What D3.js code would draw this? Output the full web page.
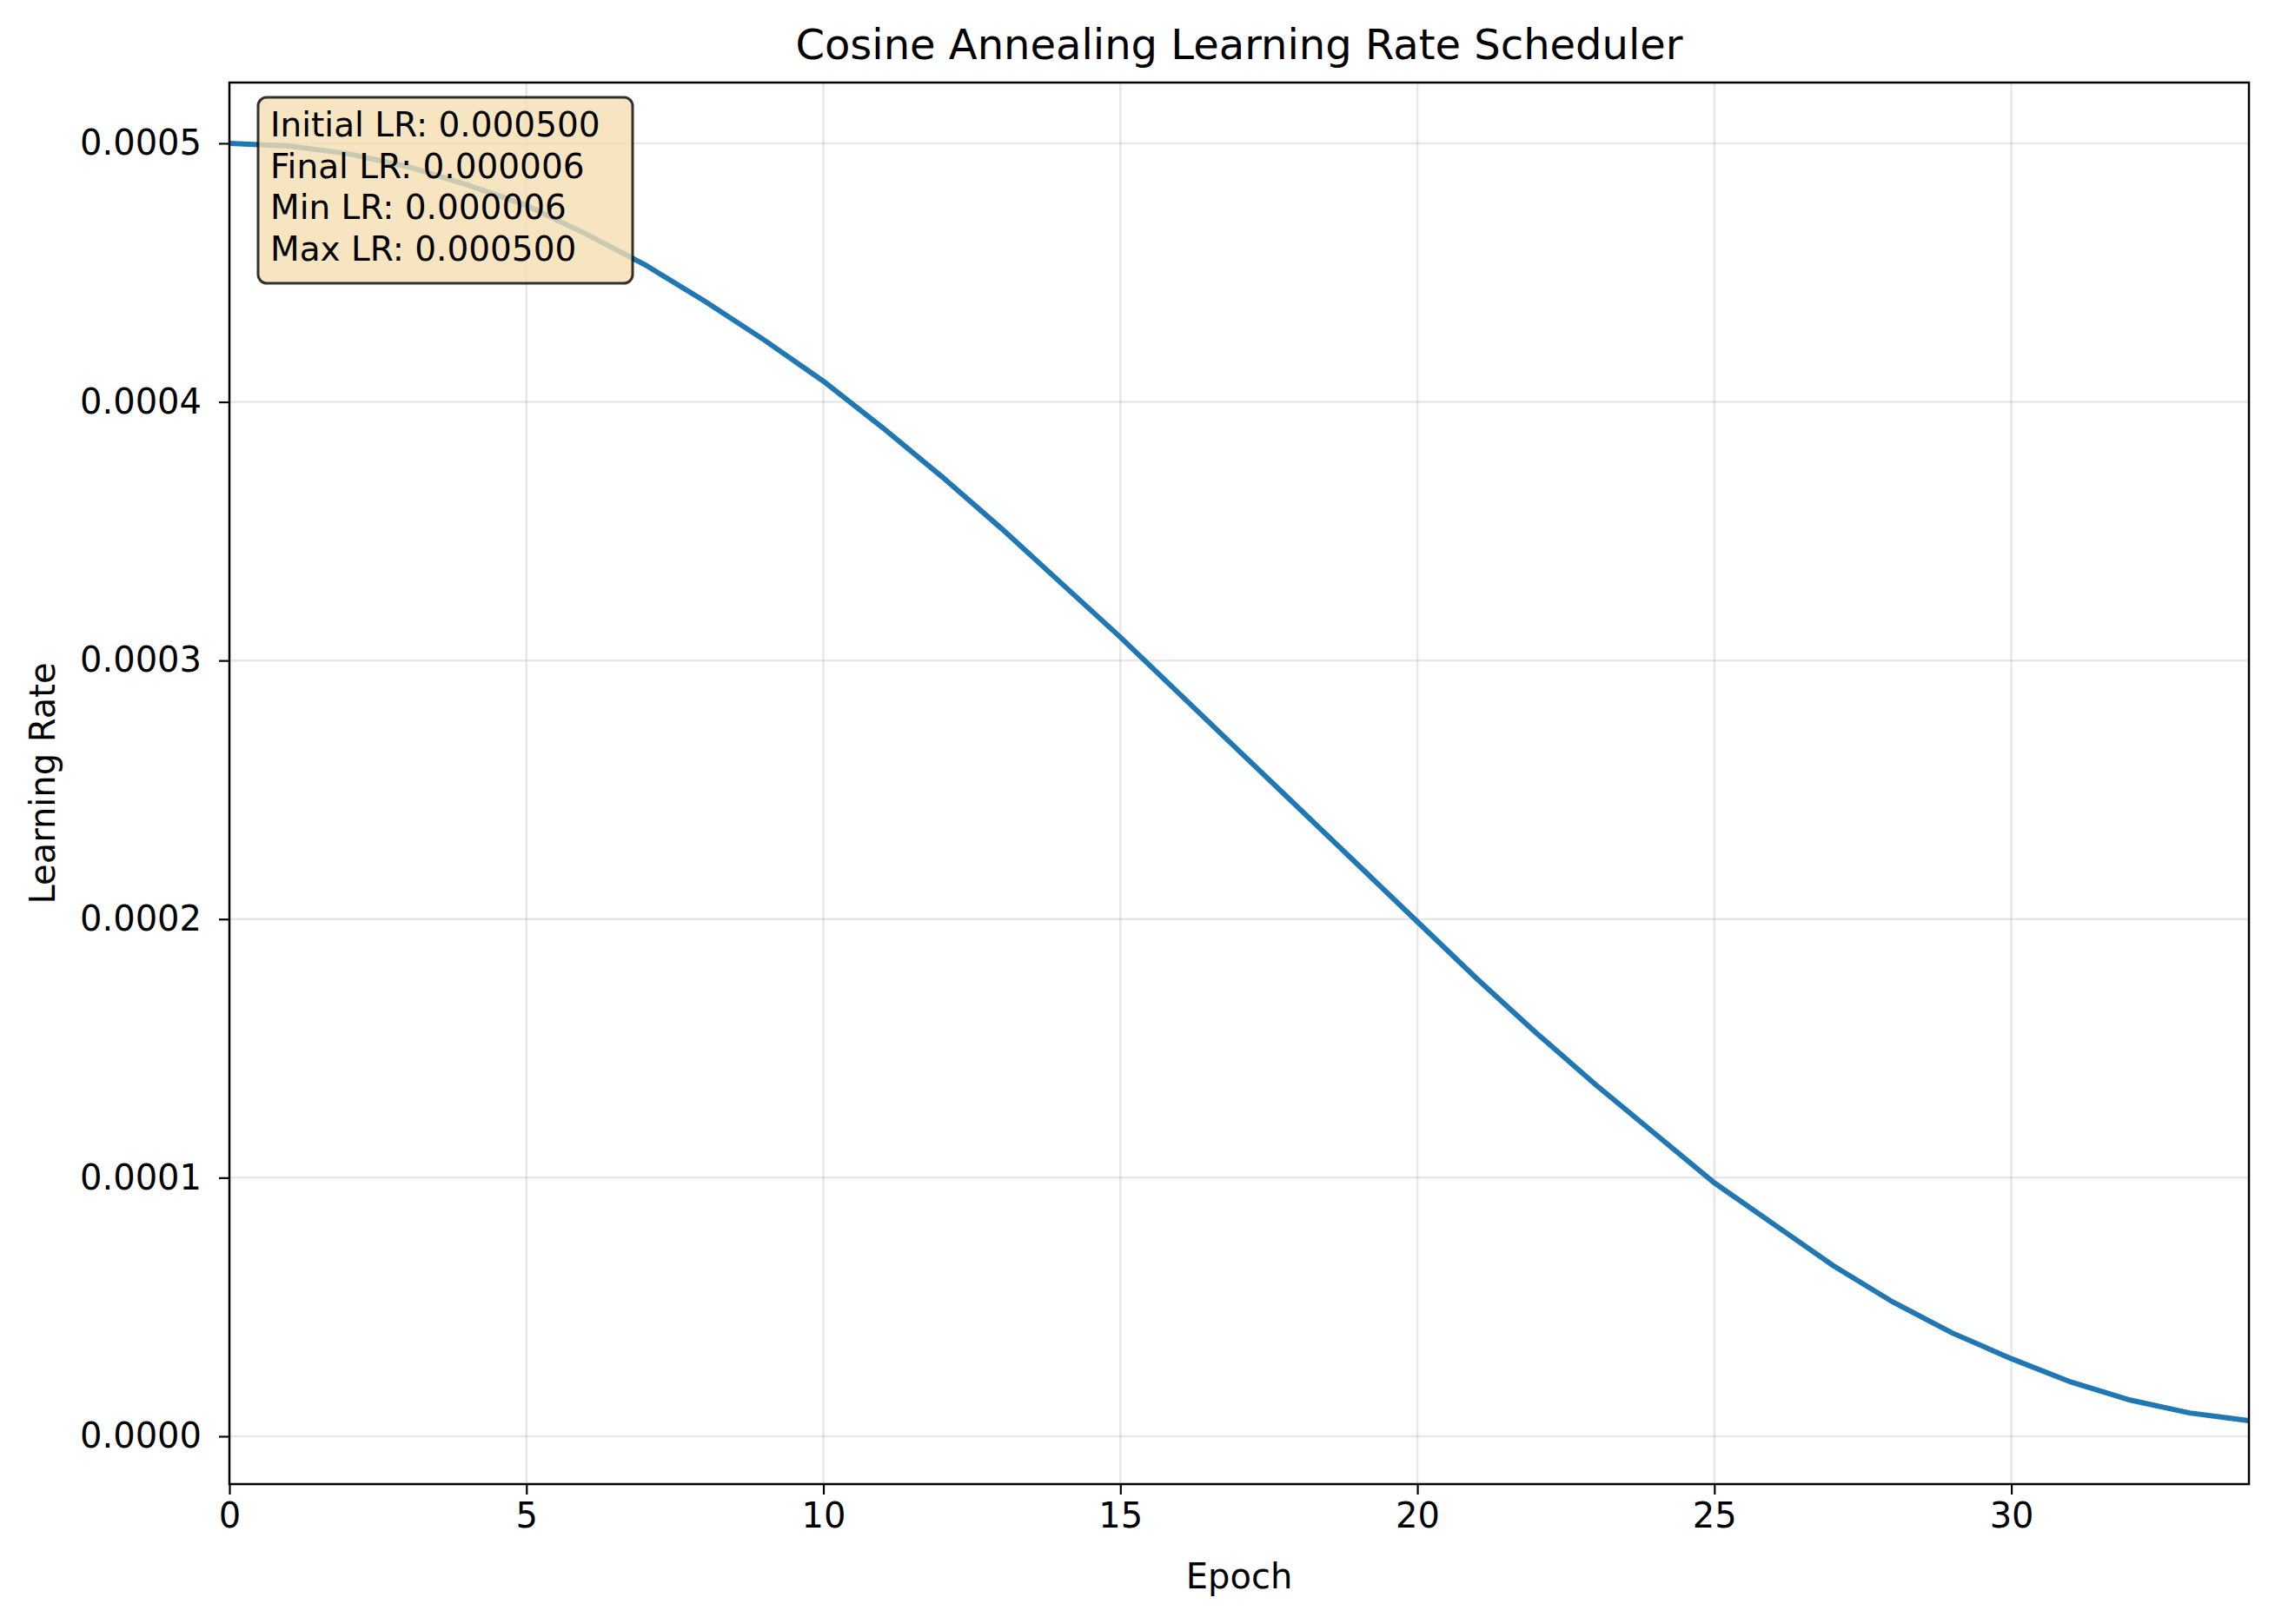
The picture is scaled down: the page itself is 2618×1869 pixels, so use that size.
<!DOCTYPE html>
<html><head><meta charset="utf-8">
<script src="https://cdn.jsdelivr.net/npm/d3@7"></script>
<style>body{margin:0;background:#fff}text{font-family:"DejaVu Sans",sans-serif}</style>
</head><body><div id="chart"></div>
<script>
var epochs = d3.range(0, 35);
var lrs = [0.000500,0.000499,0.000496,0.000491,0.000484,0.000476,0.000465,0.000453,0.000439,0.000424,
  0.000408,0.000390,0.000371,0.000351,0.000330,0.000309,0.000287,0.000265,0.000243,0.000221,
  0.000199,0.000177,0.000156,0.000136,0.000117,0.000098,0.000082,0.000066,0.000052,0.000040,
  0.000030,0.000021,0.000014,0.000009,0.000006];
var xTicks = [0,5,10,15,20,25,30];
var yTicks = [0,0.0001,0.0002,0.0003,0.0004,0.0005];
var infoLines = ["Initial LR: 0.000500","Final LR: 0.000006","Min LR: 0.000006","Max LR: 0.000500"];

var W = 2618, H = 1869, L = 264, R = 2588, T = 95, B = 1708;
var svg = d3.select("#chart").append("svg").attr("width", W).attr("height", H);

var x = d3.scaleLinear().domain([0, 34]).range([L, R]);
var y = d3.scaleLinear().domain([-0.0000185, 0.0005235]).range([B, T]);

// grid
svg.append("g").selectAll("line").data(xTicks).join("line")
  .attr("x1", d => x(d)).attr("x2", d => x(d)).attr("y1", T).attr("y2", B)
  .attr("stroke", "#b0b0b0").attr("stroke-opacity", 0.3).attr("stroke-width", 2.5);
svg.append("g").selectAll("line").data(yTicks).join("line")
  .attr("y1", d => y(d)).attr("y2", d => y(d)).attr("x1", L).attr("x2", R)
  .attr("stroke", "#b0b0b0").attr("stroke-opacity", 0.3).attr("stroke-width", 2.5);

// axes
var xAxis = svg.append("g").attr("transform", "translate(0," + B + ")")
  .call(d3.axisBottom(x).tickValues(xTicks).tickSize(12).tickPadding(10).tickFormat(d3.format("d")));
var yAxis = svg.append("g").attr("transform", "translate(" + L + ",0)")
  .call(d3.axisLeft(y).tickValues(yTicks).tickSize(12).tickPadding(20).tickFormat(d3.format(".4f")));
[xAxis, yAxis].forEach(function (a) {
  a.select(".domain").remove();
  a.selectAll("line").attr("stroke", "#000").attr("stroke-width", 2.2);
  a.selectAll("text").attr("font-size", 40).attr("font-family", "DejaVu Sans").attr("fill", "#000");
});

// line
svg.append("path").datum(epochs)
  .attr("fill", "none").attr("stroke", "#1f77b4").attr("stroke-width", 6)
  .attr("d", d3.line().x(d => x(d)).y(d => y(lrs[d])));

// frame
svg.append("rect").attr("x", L).attr("y", T).attr("width", R - L).attr("height", B - T)
  .attr("fill", "none").attr("stroke", "#000").attr("stroke-width", 2.5);

// info box
svg.append("rect").attr("x", 297).attr("y", 112).attr("width", 431).attr("height", 214)
  .attr("rx", 10).attr("fill", "wheat").attr("fill-opacity", 0.8)
  .attr("stroke", "#000").attr("stroke-opacity", 0.8).attr("stroke-width", 3);
svg.append("g").selectAll("text").data(infoLines).join("text")
  .attr("x", 311).attr("y", (d, i) => 157 + i * 47.6)
  .attr("font-size", 39).text(d => d);

// labels
svg.append("text").attr("x", (L + R) / 2).attr("y", 68).attr("text-anchor", "middle")
  .attr("font-size", 48).text("Cosine Annealing Learning Rate Scheduler");
svg.append("text").attr("x", (L + R) / 2).attr("y", 1828).attr("text-anchor", "middle")
  .attr("font-size", 40).text("Epoch");
svg.append("text").attr("transform", "translate(63," + (T + B) / 2 + ") rotate(-90)")
  .attr("text-anchor", "middle").attr("font-size", 40).text("Learning Rate");
</script></body></html>
